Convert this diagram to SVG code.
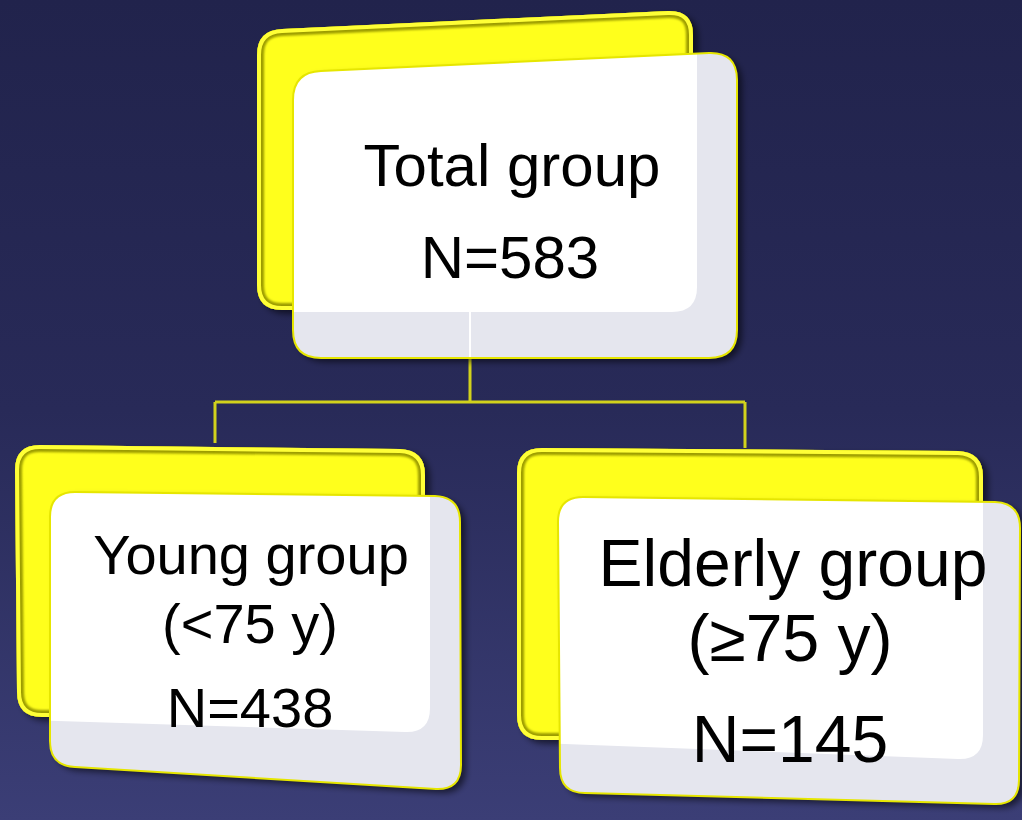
<svg xmlns="http://www.w3.org/2000/svg" xmlns:xlink="http://www.w3.org/1999/xlink" width="1022" height="820" viewBox="0 0 1022 820">
<style>
.lbl{font-family:"Liberation Sans",Arial,sans-serif;fill:#000;text-anchor:middle}
.conn{stroke:#d2d21c;stroke-width:3;fill:none}
.ybase{fill:#ffff1e}
.yrimD{fill:none;stroke:#9c9c04;stroke-width:14}
.yrimL{fill:none;stroke:#ffff36;stroke-width:8}
.wgrey{fill:#e5e6ee}
.wwhite{fill:#ffffff}
.wline{fill:none;stroke:#e6e600;stroke-width:2}
</style>
<defs>
<linearGradient id="bg" x1="0" y1="0" x2="0" y2="1">
<stop offset="0" stop-color="#21234c"/>
<stop offset="0.5" stop-color="#282a58"/>
<stop offset="1" stop-color="#3b3e76"/>
</linearGradient>
<filter id="sh" x="-10%" y="-10%" width="130%" height="130%">
<feDropShadow dx="5" dy="4" stdDeviation="3" flood-color="#000" flood-opacity="0.55"/>
</filter>
<filter id="soft" x="-5%" y="-5%" width="110%" height="110%">
<feGaussianBlur stdDeviation="1"/>
</filter>
<path id="yT" d="M257,55 Q257,30 282,29 L668,11 Q693,10 693,35 L693,285 Q693,310 668,310 L282,310 Q257,310 257,285 Z"/>
<path id="wT" d="M293,100 Q293,72 321,71 L709,53 Q737,52 737,80 L737,330 Q737,358 709,358 L321,358 Q293,358 293,330 Z"/>
<path id="yY" d="M15,470 Q15,445 40,445 L400,449 Q425,450 425,475 L425,692 Q425,717 400,717 L42,717 Q17,717 17,692 Z"/>
<path id="wY" d="M50,517 Q50,492 75,492 L435,496 Q460,497 460,522 L461,765 Q461,790 436,789 L75,767 Q50,766 50,741 Z"/>
<path id="yE" d="M517,473 Q517,448 542,448 L958,451 Q983,452 983,477 L983,715 Q983,740 958,740 L542,740 Q517,740 517,715 Z"/>
<path id="wE" d="M558,522 Q558,497 583,497 L995,502 Q1020,503 1020,528 L1019,780 Q1019,805 994,804 L585,793 Q560,793 560,768 Z"/>
<clipPath id="cyT"><use xlink:href="#yT"/></clipPath>
<clipPath id="cwT"><use xlink:href="#wT"/></clipPath>
<clipPath id="cyY"><use xlink:href="#yY"/></clipPath>
<clipPath id="cwY"><use xlink:href="#wY"/></clipPath>
<clipPath id="cyE"><use xlink:href="#yE"/></clipPath>
<clipPath id="cwE"><use xlink:href="#wE"/></clipPath>
</defs>
<rect x="0" y="0" width="1022" height="820" fill="url(#bg)"/>

<g id="connectors">
<path class="conn" d="M470,358 V402 M215,402 H745 M215,402 V443 M745,402 V448"/>
</g>

<g id="node-total">
<use xlink:href="#yT" class="ybase" filter="url(#sh)"/>
<g clip-path="url(#cyT)">
<use xlink:href="#yT" class="yrimD" filter="url(#soft)"/>
<use xlink:href="#yT" class="yrimL"/>
</g>
<use xlink:href="#wT" class="wgrey" filter="url(#sh)"/>
<g clip-path="url(#cwT)">
<path class="wwhite" d="M280,40 L697,40 L697,287 Q697,312 672,312 L280,312 Z"/>
<line x1="470" y1="312" x2="470" y2="360" stroke="#ffffff" stroke-width="2"/>
</g>
<use xlink:href="#wT" class="wline"/>
<text class="lbl" x="512" y="186" font-size="60">Total group</text>
<text class="lbl" x="510" y="278" font-size="60">N=583</text>
</g>

<g id="node-young">
<use xlink:href="#yY" class="ybase" filter="url(#sh)"/>
<g clip-path="url(#cyY)">
<use xlink:href="#yY" class="yrimD" filter="url(#soft)"/>
<use xlink:href="#yY" class="yrimL"/>
</g>
<use xlink:href="#wY" class="wgrey" filter="url(#sh)"/>
<g clip-path="url(#cwY)">
<path class="wwhite" d="M30,470 L430,470 L430,708 Q430,733 405,732 L30,720 Z"/>
</g>
<use xlink:href="#wY" class="wline"/>
<text class="lbl" x="251" y="574" font-size="56">Young group</text>
<text class="lbl" x="250" y="643" font-size="56">(&lt;75 y)</text>
<text class="lbl" x="250" y="727" font-size="56">N=438</text>
</g>

<g id="node-elderly">
<use xlink:href="#yE" class="ybase" filter="url(#sh)"/>
<g clip-path="url(#cyE)">
<use xlink:href="#yE" class="yrimD" filter="url(#soft)"/>
<use xlink:href="#yE" class="yrimL"/>
</g>
<use xlink:href="#wE" class="wgrey" filter="url(#sh)"/>
<g clip-path="url(#cwE)">
<path class="wwhite" d="M540,480 L983,480 L983,735 Q983,760 958,759 L540,743 Z"/>
</g>
<use xlink:href="#wE" class="wline"/>
<text class="lbl" x="793" y="586" font-size="66">Elderly group</text>
<text class="lbl" x="790" y="661" font-size="66">(≥75 y)</text>
<text class="lbl" x="790" y="762" font-size="66">N=145</text>
</g>
</svg>
